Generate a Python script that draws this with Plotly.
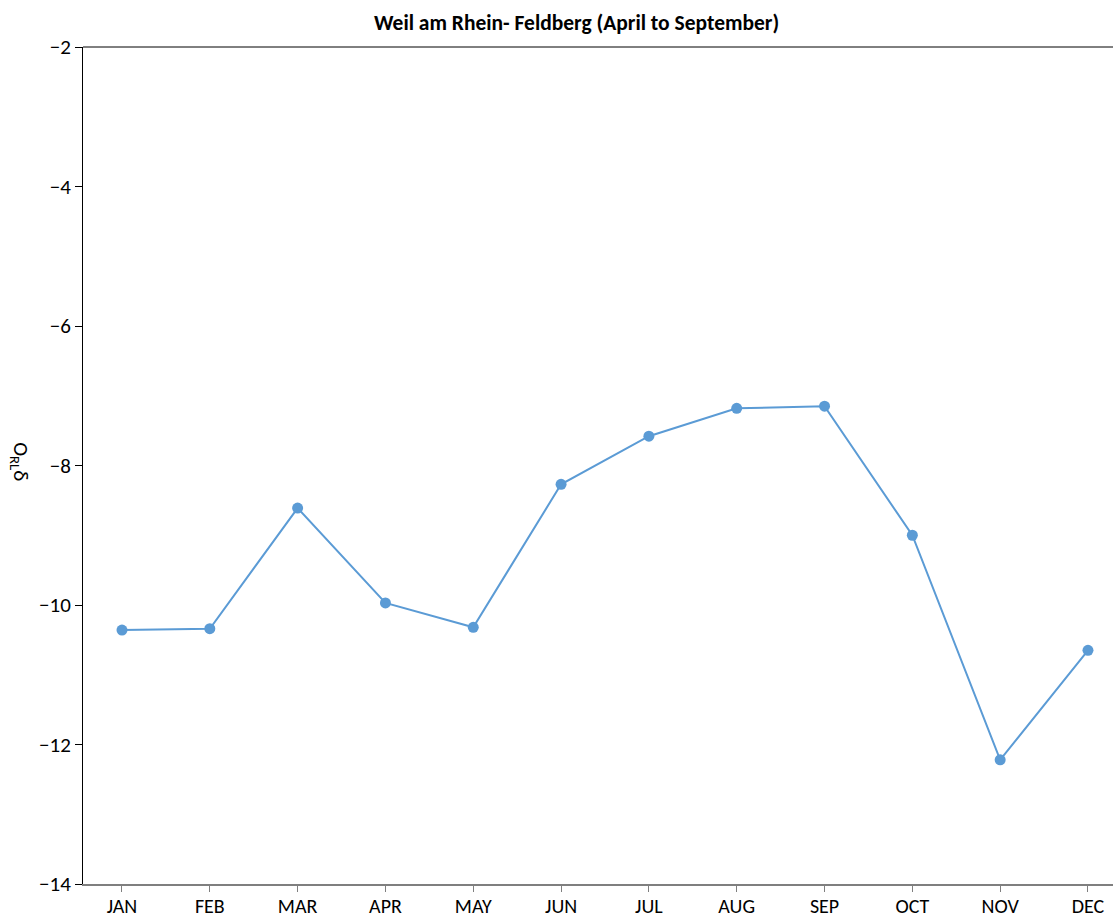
import plotly.graph_objects as go

months = ["JAN", "FEB", "MAR", "APR", "MAY", "JUN", "JUL", "AUG", "SEP", "OCT", "NOV", "DEC"]
values = [-10.36, -10.34, -8.61, -9.97, -10.32, -8.27, -7.58, -7.18, -7.15, -9.00, -12.22, -10.65]
y_ticks = [-2, -4, -6, -8, -10, -12, -14]

FONT = "Carlito, Lato, Liberation Sans, sans-serif"

fig = go.Figure()
fig.add_trace(go.Scatter(
    x=list(range(len(months))), y=values, mode="lines+markers",
    line=dict(color="#5B9BD5", width=2),
    marker=dict(color="#5B9BD5", size=11),
    showlegend=False, hoverinfo="skip",
))

fig.update_layout(
    width=1113, height=919,
    margin=dict(l=83, r=0, t=47, b=35),
    paper_bgcolor="white", plot_bgcolor="white",
    font=dict(family=FONT, size=20, color="black"),
    title=dict(text="<b>Weil am Rhein- Feldberg (April to September)</b>",
               x=0.518, xanchor="center", y=0.976, yanchor="middle",
               font=dict(family=FONT, size=21.5, color="black")),
    xaxis=dict(
        tickmode="array", tickvals=list(range(len(months))), ticktext=months,
        range=[-0.444, 11.285], showgrid=False, zeroline=False, automargin=False,
        showline=True, linecolor="#7f7f7f", linewidth=2,
        ticks="outside", ticklen=6, tickcolor="#7f7f7f", tickwidth=1,
        ticklabelstandoff=-3,
        tickfont=dict(family=FONT, size=20),
    ),
    yaxis=dict(
        range=[-14, -2], tickmode="array", tickvals=y_ticks,
        ticktext=[f"\u2212{abs(v)}" for v in y_ticks], automargin=False,
        showgrid=False, zeroline=False,
        showline=True, linecolor="black", linewidth=1,
        ticks="outside", ticklen=7, tickcolor="black", tickwidth=1,
        tickfont=dict(family=FONT, size=21),
    ),
    shapes=[dict(type="line", xref="paper", yref="paper", x0=0, x1=1, y0=1, y1=1,
                 line=dict(color="black", width=1))],
    annotations=[dict(text="O<sub>RL</sub>\u03b4", textangle=90, xref="paper", yref="paper",
                      x=-0.061, y=0.505, xanchor="center", yanchor="middle",
                      showarrow=False, font=dict(family=FONT, size=21, color="black"))],
)

fig.write_html("out.html", config={"displayModeBar": False},
               post_script="document.body.style.margin='0px';document.body.style.overflow='hidden';")
